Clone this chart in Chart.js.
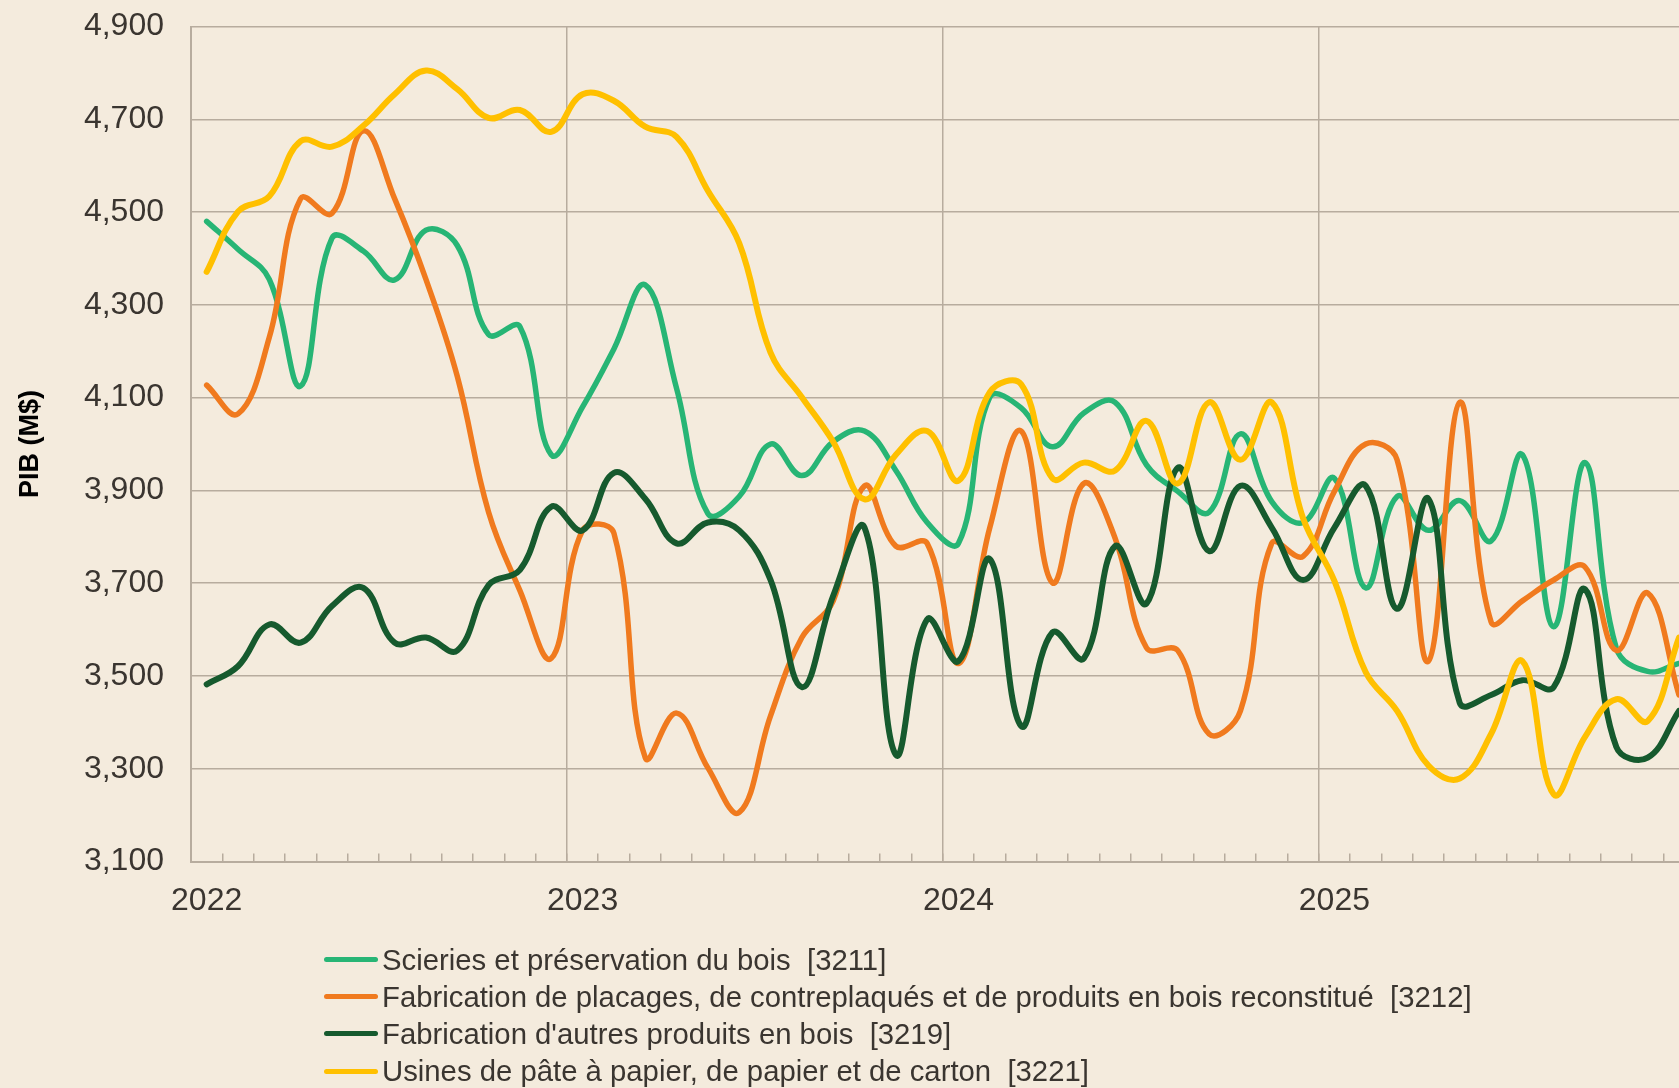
<!DOCTYPE html>
<html lang="fr">
<head>
<meta charset="utf-8">
<title>PIB - industries du bois et du papier</title>
<script src="https://cdn.jsdelivr.net/npm/chart.js@4.4.1/dist/chart.umd.min.js"></script>
<style>
  html, body { margin: 0; padding: 0; background: #F4EBDD; overflow: hidden; }
  #cadre { position: relative; width: 1679px; height: 1088px; }
  #graphique { position: absolute; left: 0; top: 0; }
  #legende { position: absolute; left: 324px; top: 941px; font-family: 'Liberation Sans', Arial, sans-serif; font-size: 29.3px; color: #3A3530; }
  .item { display: flex; align-items: center; height: 37.2px; white-space: pre; }
  .trait { display: inline-block; width: 54px; height: 5px; border-radius: 3px; margin-right: 4px; }
</style>
</head>
<body>
<div id="cadre">
  <canvas id="graphique" width="1679" height="960"></canvas>
  <div id="legende"></div>
</div>
<script>
// mois (janv. 2022 a dec. 2025)
const mois = [
  '2022-01','2022-02','2022-03','2022-04','2022-05','2022-06','2022-07','2022-08','2022-09','2022-10','2022-11','2022-12',
  '2023-01','2023-02','2023-03','2023-04','2023-05','2023-06','2023-07','2023-08','2023-09','2023-10','2023-11','2023-12',
  '2024-01','2024-02','2024-03','2024-04','2024-05','2024-06','2024-07','2024-08','2024-09','2024-10','2024-11','2024-12',
  '2025-01','2025-02','2025-03','2025-04','2025-05','2025-06','2025-07','2025-08','2025-09','2025-10','2025-11','2025-12'
];

const nomsSeries = [
  'Scieries et préservation du bois  [3211]',
  'Fabrication de placages, de contreplaqués et de produits en bois reconstitué  [3212]',
  "Fabrication d'autres produits en bois  [3219]",
  'Usines de pâte à papier, de papier et de carton  [3221]'
];
const couleurs = ['#27B575', '#F07A1E', '#165A2E', '#FFC000'];

// PIB en M$
const scieries = [
  4480, 4420, 4355, 4125, 4444, 4416, 4354, 4461, 4428, 4236, 4253, 3977,
  4080, 4205, 4343, 4120, 3850, 3887, 4000, 3932, 4005, 4028, 3943, 3831,
  3786, 4101, 4078, 3994, 4067, 4090, 3955, 3898, 3853, 4022, 3876, 3831,
  3926, 3690, 3887, 3814, 3878, 3791, 3977, 3606, 3960, 3560, 3510, 3527
];
const placages = [
  4127, 4065, 4230, 4529, 4497, 4675, 4529, 4355, 4146, 3853, 3684, 3538,
  3814, 3808, 3324, 3420, 3302, 3206, 3414, 3583, 3662, 3910, 3780, 3786,
  3527, 3820, 4028, 3701, 3915, 3797, 3561, 3555, 3375, 3425, 3786, 3758,
  3898, 4000, 3966, 3532, 4090, 3617, 3662, 3707, 3735, 3555, 3679, 3459
];
const autresBois = [
  3482, 3521, 3611, 3572, 3651, 3690, 3572, 3583, 3555, 3696, 3729, 3865,
  3814, 3938, 3882, 3786, 3831, 3814, 3707, 3476, 3673, 3820, 3330, 3622,
  3532, 3752, 3392, 3594, 3538, 3780, 3656, 3949, 3769, 3910, 3820, 3707,
  3820, 3910, 3645, 3882, 3442, 3459, 3491, 3476, 3687, 3347, 3324, 3425
];
const papier = [
  4371, 4501, 4534, 4653, 4641, 4686, 4754, 4805, 4765, 4703, 4720, 4673,
  4754, 4740, 4684, 4662, 4546, 4433, 4197, 4101, 4005, 3881, 3977, 4028,
  3921, 4112, 4129, 3926, 3960, 3943, 4050, 3915, 4090, 3966, 4090, 3840,
  3705, 3508, 3425, 3307, 3279, 3375, 3532, 3245, 3369, 3450, 3403, 3583
];

const valeurs = [scieries, placages, autresBois, papier];
const epaisseurs = [5.5, 5.5, 6, 6];

const yMin = 3100, yMax = 4900, yPas = 200;

const police = "'Liberation Sans', Arial, sans-serif";
const texte = '#3A3530';
const grille = '#B7AC9E';

const datasets = valeurs.map((v, s) => ({
  label: nomsSeries[s],
  data: v.map((y, i) => ({ x: i, y: y })),
  borderColor: couleurs[s],
  backgroundColor: couleurs[s],
  borderWidth: epaisseurs[s],
  borderCapStyle: 'round',
  borderJoinStyle: 'round',
  pointRadius: 0,
  tension: 0.4,
  fill: false,
  order: 4 - s
}));

new Chart(document.getElementById('graphique'), {
  type: 'line',
  data: { datasets: datasets },
  options: {
    responsive: false,
    animation: false,
    devicePixelRatio: 1,
    layout: { padding: { top: 26.5, bottom: 12, left: 0, right: 0 } },
    plugins: { legend: { display: false }, tooltip: { enabled: false } },
    scales: {
      x: {
        type: 'linear',
        min: -0.5,
        max: mois.length - 1,
        afterBuildTicks: scale => {
          const t = [];
          mois.forEach((m, k) => {
            t.push({ value: k - 0.5 });
            if (m.endsWith('-01')) t.push({ value: k });
          });
          scale.ticks = t;
        },
        afterFit: scale => { scale.paddingLeft = 0; scale.paddingRight = 0; },
        ticks: {
          autoSkip: false,
          maxRotation: 0,
          padding: 28,
          color: texte,
          font: { family: police, size: 32 },
          callback: v => (Number.isInteger(v) && mois[v].endsWith('-01')) ? mois[v].slice(0, 4) : ''
        },
        grid: {
          lineWidth: 1.5,
          tickWidth: 1.5,
          tickLength: -8,
          color: ctx => {
            const v = ctx.tick ? ctx.tick.value : 0;
            return (!Number.isInteger(v) && v > 0 && (v + 0.5) % 12 === 0) ? grille : 'rgba(0,0,0,0)';
          },
          tickColor: ctx => {
            const v = ctx.tick ? ctx.tick.value : 0;
            return Number.isInteger(v) ? 'rgba(0,0,0,0)' : grille;
          }
        },
        border: { display: true, color: grille, width: 2 }
      },
      y: {
        min: yMin,
        max: yMax,
        afterFit: scale => { scale.width = 191; scale.paddingTop = 0; scale.paddingBottom = 0; },
        ticks: {
          stepSize: yPas,
          padding: 27,
          color: texte,
          font: { family: police, size: 32 },
          callback: v => v.toLocaleString('en-US')
        },
        grid: { color: grille, lineWidth: 1.5, drawTicks: false },
        border: { display: true, color: grille, width: 2 },
        title: {
          display: true,
          text: 'PIB (M$)',
          color: '#000',
          font: { family: police, size: 27, weight: 'bold', lineHeight: 1 },
          padding: { top: 17, bottom: 0 }
        }
      }
    }
  }
});

// legende sous le graphique
const legende = document.getElementById('legende');
nomsSeries.forEach((nom, s) => {
  const ligne = document.createElement('div');
  ligne.className = 'item';
  const trait = document.createElement('span');
  trait.className = 'trait';
  trait.style.background = couleurs[s];
  ligne.appendChild(trait);
  ligne.appendChild(document.createTextNode(nom));
  legende.appendChild(ligne);
});
</script>
</body>
</html>
